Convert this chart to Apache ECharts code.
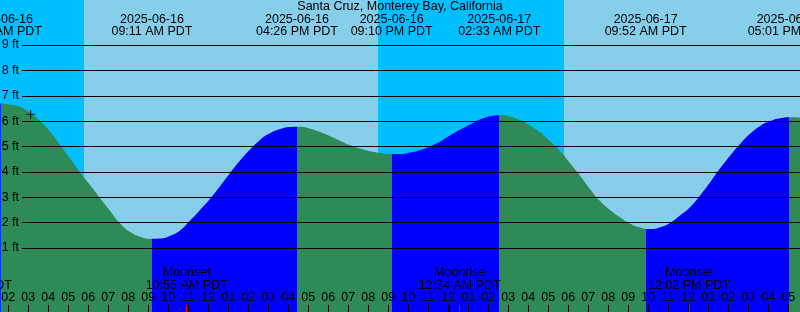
<!DOCTYPE html>
<html>
<head>
<meta charset="utf-8">
<title>Santa Cruz, Monterey Bay, California</title>
<script src="https://cdn.jsdelivr.net/npm/echarts@6/dist/echarts.min.js"></script>
<style>html,body{margin:0;padding:0;background:#00BFFF;}</style>
</head>
<body>
<div id="main" style="width:800px;height:312px;"></div>
<script>
// all times are hours counted from 2025-06-16 00:00 PDT
const xMin = 1.585, xMax = 41.585;

// tide level (ft)
const tideHours = [1.6, 2.1, 2.6, 3.1, 3.6, 4.1, 4.6, 5.1, 5.6, 6.1, 6.6, 7.1, 7.6, 8.1, 8.6, 9.1, 9.6,
  10.1, 10.6, 11.1, 11.6, 12.1, 12.6, 13.1, 13.6, 14.1, 14.6, 15.1, 15.6, 16.1, 16.6, 17.1, 17.6,
  18.1, 18.6, 19.1, 19.6, 20.1, 20.6, 21.1, 21.6, 22.1, 22.6, 23.1, 23.6, 24.1, 24.6, 25.1, 25.6,
  26.1, 26.6, 27.1, 27.6, 28.1, 28.6, 29.1, 29.6, 30.1, 30.6, 31.1, 31.6, 32.1, 32.6, 33.1, 33.6,
  34.1, 34.6, 35.1, 35.6, 36.1, 36.6, 37.1, 37.6, 38.1, 38.6, 39.1, 39.6, 40.1, 40.6, 41.1, 41.6];
const tideFeet = [6.71, 6.67, 6.58, 6.35, 6.01, 5.59, 5.07, 4.54, 3.99, 3.49, 2.97, 2.47, 1.98, 1.65, 1.46, 1.38, 1.39,
  1.50, 1.72, 2.11, 2.53, 2.97, 3.47, 3.99, 4.48, 4.91, 5.29, 5.55, 5.71, 5.79, 5.80, 5.72, 5.59,
  5.42, 5.24, 5.07, 4.94, 4.83, 4.76, 4.72, 4.72, 4.78, 4.88, 5.03, 5.22, 5.46, 5.69, 5.89, 6.09,
  6.21, 6.25, 6.20, 6.05, 5.83, 5.57, 5.22, 4.83, 4.35, 3.86, 3.33, 2.86, 2.51, 2.22, 1.98, 1.83,
  1.77, 1.84, 2.02, 2.31, 2.64, 3.10, 3.62, 4.17, 4.67, 5.13, 5.53, 5.83, 6.02, 6.13, 6.17, 6.16];

// high / low tides
const extremeHours = [1.633, 9.183, 16.433, 21.167, 26.55, 33.867, 41.017];
const extremeKind = ['high', 'low', 'high', 'low', 'high', 'low', 'high'];
const extremeDates = ['2025-06-16', '2025-06-16', '2025-06-16', '2025-06-16', '2025-06-17', '2025-06-17', '2025-06-17'];
const extremeTimes = ['01:38 AM PDT', '09:11 AM PDT', '04:26 PM PDT', '09:10 PM PDT', '02:33 AM PDT', '09:52 AM PDT', '05:01 PM PDT'];

// daylight
const sunriseHours = [5.785, 29.785];
const sunsetHours = [20.485];

// moon
const moonHours = [10.917, 24.567, 36.033];
const moonNames = ['Moonset', 'Moonrise', 'Moonset'];
const moonTimes = ['10:55 AM PDT', '12:34 AM PDT', '12:02 PM PDT'];

const hourTicks = [2, 3, 4, 5, 6, 7, 8, 9, 10, 11, 12, 13, 14, 15, 16, 17, 18, 19, 20, 21,
  22, 23, 24, 25, 26, 27, 28, 29, 30, 31, 32, 33, 34, 35, 36, 37, 38, 39, 40, 41];
const hourLabels = ['02', '03', '04', '05', '06', '07', '08', '09', '10', '11', '12', '01', '02', '03', '04', '05', '06', '07', '08', '09',
  '10', '11', '12', '01', '02', '03', '04', '05', '06', '07', '08', '09', '10', '11', '12', '01', '02', '03', '04', '05'];
const midnightHours = [24];

const footTicks = [1, 2, 3, 4, 5, 6, 7, 8, 9];
const nowPoint = [3.12, 6.29];

const FONT = 'Liberation Sans';
const FS = 12.5;

function nearest(arr, v) {
    let best = 0;
    for (let i = 1; i < arr.length; i++) {
        if (Math.abs(arr[i] - v) < Math.abs(arr[best] - v)) best = i;
    }
    return best;
}

const tideData = tideHours.map((h, i) => [h, tideFeet[i]]);

// rising = blue, falling = green
const pieces = [];
for (let i = 0; i <= extremeHours.length; i++) {
    const p = {};
    if (i > 0) p.gte = extremeHours[i - 1];
    if (i < extremeHours.length) p.lt = extremeHours[i];
    const rising = i < extremeHours.length ? extremeKind[i] === 'high' : extremeKind[i - 1] === 'low';
    p.color = rising ? '#0000FF' : '#2E8B57';
    pieces.push(p);
}

const dayAreas = [
    [{xAxis: sunriseHours[0]}, {xAxis: sunsetHours[0]}],
    [{xAxis: sunriseHours[1]}, {xAxis: xMax}]
];

const chart = echarts.init(document.getElementById('main'));

const baseX = {
    type: 'value', gridIndex: 0, min: xMin, max: xMax,
    axisLine: {show: false, onZero: false}, splitLine: {show: false}, z: 5
};

chart.setOption({
    backgroundColor: '#00BFFF',
    animation: false,
    title: {
        text: 'Santa Cruz, Monterey Bay, California',
        left: 'center', top: 0, padding: 0,
        textStyle: {fontFamily: FONT, fontSize: FS, fontWeight: 'normal', color: '#000', lineHeight: 14}
    },
    grid: [
        {left: 0, right: 0, top: 0, bottom: 0, outerBoundsMode: 'none'},
        {left: 22, right: 0, top: 45, height: 203, outerBoundsMode: 'none'}
    ],
    visualMap: {
        type: 'piecewise', show: false, dimension: 0, seriesIndex: 1, pieces: pieces
    },
    xAxis: [
        // hour ticks
        Object.assign({}, baseX, {
            position: 'bottom',
            axisTick: {show: true, inside: true, length: 7, customValues: hourTicks, lineStyle: {color: '#000', width: 1}},
            axisLabel: {
                show: true, inside: true, margin: 8, customValues: hourTicks,
                fontFamily: FONT, fontSize: FS, color: '#000', lineHeight: 13,
                formatter: v => hourLabels[nearest(hourTicks, v)]
            }
        }),
        // midnight tick
        Object.assign({}, baseX, {
            position: 'bottom',
            axisTick: {show: true, inside: true, length: 7, customValues: midnightHours, lineStyle: {color: '#000', width: 2}},
            axisLabel: {show: false}
        }),
        // moon events
        Object.assign({}, baseX, {
            position: 'bottom',
            axisTick: {show: true, inside: true, length: 7, customValues: moonHours, lineStyle: {color: '#FF0000', width: 1}},
            axisLabel: {
                show: true, inside: true, margin: 20, customValues: moonHours,
                fontFamily: FONT, fontSize: FS, color: '#000', lineHeight: 13,
                formatter: v => { const i = nearest(moonHours, v); return moonNames[i] + '\n' + moonTimes[i]; }
            }
        }),
        // tide extremes on top
        Object.assign({}, baseX, {
            position: 'top',
            axisTick: {show: false},
            axisLabel: {
                show: true, inside: true, margin: 13, customValues: extremeHours,
                fontFamily: FONT, fontSize: FS, color: '#000', lineHeight: 12.4,
                formatter: v => {
                    const i = nearest(extremeHours, v);
                    return extremeDates[i] + '\n' + extremeTimes[i];
                }
            }
        }),
        Object.assign({}, baseX, {gridIndex: 1, show: false})
    ],
    yAxis: [
        {type: 'value', gridIndex: 0, min: -1.502, max: 10.793, show: false},
        {
            type: 'value', gridIndex: 1, min: 1, max: 9, interval: 1, z: 5,
            axisLine: {show: false, onZero: false}, axisTick: {show: false},
            splitLine: {show: true, lineStyle: {color: '#000', width: 1}},
            axisLabel: {
                show: true, margin: 3, fontFamily: FONT, fontSize: FS, color: '#000',
                formatter: v => footTicks.indexOf(v) >= 0 ? v + ' ft' : ''
            }
        }
    ],
    graphic: [{
        // label of the moon event just before the left edge
        type: 'text', left: -70, top: 266, z: 10,
        style: {text: 'Moonrise\n12:08 AM PDT', font: FS + 'px "' + FONT + '"', fill: '#000', align: 'center', lineHeight: 13, width: 84}
    }],
    series: [
        {
            type: 'line', xAxisIndex: 0, yAxisIndex: 0, data: [], z: 0, silent: true,
            markArea: {silent: true, itemStyle: {color: '#87CEEB', opacity: 1}, data: dayAreas}
        },
        {
            type: 'line', xAxisIndex: 0, yAxisIndex: 0, data: tideData, z: 2,
            showSymbol: false, smooth: 0.5, silent: true,
            lineStyle: {width: 0},
            areaStyle: {opacity: 1, origin: 'start'}
        },
        {
            type: 'scatter', xAxisIndex: 0, yAxisIndex: 0, data: [nowPoint], z: 6, silent: true,
            symbol: 'path://M0,4.5L9,4.5M4.5,0L4.5,9', symbolSize: 9,
            itemStyle: {color: 'none', borderColor: '#000', borderWidth: 1}
        }
    ]
});
</script>
</body>
</html>
